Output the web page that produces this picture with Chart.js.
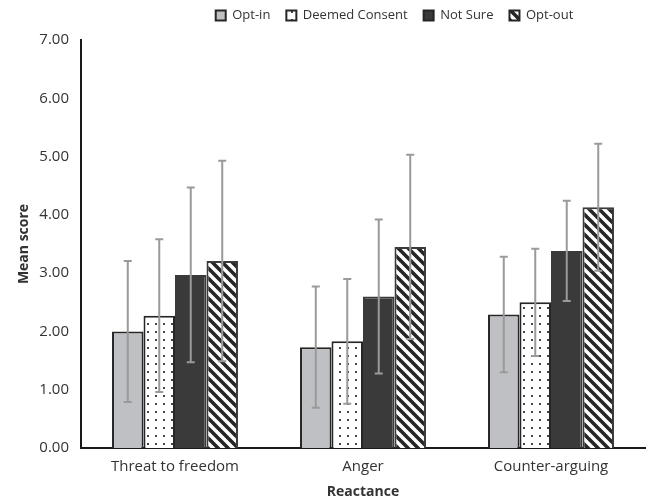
<!DOCTYPE html>
<html>
<head>
<meta charset="utf-8">
<script src="https://cdn.jsdelivr.net/npm/chart.js@4.4.0/dist/chart.umd.min.js"></script>
<style>
  html, body { margin: 0; padding: 0; background: #fff; }
  #wrap { width: 648px; height: 503px; position: relative; }
</style>
</head>
<body>
<div id="wrap"><canvas id="reactanceChart"></canvas></div>
<script>
// Reactance means by consent group, with error bars (SD)
const categories = ['Threat to freedom', 'Anger', 'Counter-arguing'];
const groupNames = ['Opt-in', 'Deemed Consent', 'Not Sure', 'Opt-out'];

const optInMeans    = [2.00, 1.73, 2.29];
const deemedMeans   = [2.27, 1.83, 2.50];
const notSureMeans  = [2.97, 2.60, 3.38];
const optOutMeans   = [3.21, 3.45, 4.13];

const optInErr   = [1.21, 1.04, 0.99];
const deemedErr  = [1.31, 1.07, 0.92];
const notSureErr = [1.50, 1.32, 0.86];
const optOutErr  = [1.72, 1.58, 1.09];

const yTicks = [0, 1, 2, 3, 4, 5, 6, 7];

const FONT = "'Open Sans', sans-serif";
const TEXT = '#333333';

// build fill patterns
function dotPattern() {
    const c = document.createElement('canvas');
    c.width = 8; c.height = 8;
    const g = c.getContext('2d');
    g.fillStyle = '#ffffff';
    g.fillRect(0, 0, 8, 8);
    g.fillStyle = '#444444';
    g.fillRect(3, 3, 2, 2);
    return g.createPattern(c, 'repeat');
}

function stripePattern() {
    const s = 10;
    const c = document.createElement('canvas');
    c.width = s; c.height = s;
    const g = c.getContext('2d');
    g.fillStyle = '#ffffff';
    g.fillRect(0, 0, s, s);
    g.strokeStyle = '#262626';
    g.lineWidth = 3.6;
    g.beginPath();
    g.moveTo(-1, -1); g.lineTo(s + 1, s + 1);
    g.moveTo(-s / 2 - 1, s / 2 - 1); g.lineTo(s / 2 + 1, s * 1.5 + 1);
    g.moveTo(s / 2 - 1, -s / 2 - 1); g.lineTo(s * 1.5 + 1, s / 2 + 1);
    g.stroke();
    return g.createPattern(c, 'repeat');
}

const fills = ['#bfc0c3', dotPattern(), '#3a3a3a', stripePattern()];
const borders = ['#262626', '#262626', '#3a3a3a', '#3a3a3a'];
const meansList = [optInMeans, deemedMeans, notSureMeans, optOutMeans];
const errList = [optInErr, deemedErr, notSureErr, optOutErr];

const datasets = groupNames.map((name, i) => ({
    label: name,
    data: meansList[i],
    errors: errList[i],
    backgroundColor: fills[i],
    borderColor: borders[i],
    borderWidth: 2,
    borderSkipped: 'bottom',
    categoryPercentage: 0.67,
    barPercentage: 1.0
}));

// error bars drawn on top of the bars
const errorBarPlugin = {
    id: 'errorBars',
    afterDatasetsDraw(chart) {
        const ctx = chart.ctx;
        const y = chart.scales.y;
        ctx.save();
        ctx.strokeStyle = '#9a9a9a';
        ctx.lineWidth = 2;
        chart.data.datasets.forEach((ds, di) => {
            const meta = chart.getDatasetMeta(di);
            meta.data.forEach((bar, j) => {
                const v = ds.data[j];
                const e = ds.errors[j];
                const top = y.getPixelForValue(v + e);
                const bot = y.getPixelForValue(v - e);
                ctx.beginPath();
                ctx.moveTo(bar.x, top); ctx.lineTo(bar.x, bot);
                ctx.moveTo(bar.x - 4, top); ctx.lineTo(bar.x + 4, top);
                ctx.moveTo(bar.x - 4, bot); ctx.lineTo(bar.x + 4, bot);
                ctx.stroke();
            });
        });
        ctx.restore();
    }
};

// legend: fixed height, shifted right like the original
const legendTweak = {
    id: 'legendTweak',
    beforeLayout(chart) {
        const lg = chart.legend;
        if (lg && !lg._tweaked) {
            const fit = lg.fit.bind(lg);
            lg.fit = function () { fit(); this.height = 47; };
            lg._tweaked = true;
        }
    },
    afterLayout(chart) {
        const lg = chart.legend;
        if (!lg) return;
        const dx = 72;
        lg.left += dx;
        lg.right += dx;
        (lg.legendHitBoxes || []).forEach(b => { b.left += dx; });
    }
};

const ctx = document.getElementById('reactanceChart').getContext('2d');
const chart = new Chart(ctx, {
    type: 'bar',
    data: { labels: categories, datasets: datasets },
    plugins: [errorBarPlugin, legendTweak],
    options: {
        responsive: true,
        maintainAspectRatio: false,
        animation: false,
        layout: { padding: { left: 0, right: 3, top: -7, bottom: 0 } },
        plugins: {
            legend: {
                display: true,
                position: 'top',
                labels: {
                    font: { family: FONT, size: 13 },
                    color: TEXT,
                    boxWidth: 10,
                    boxHeight: 10,
                    padding: 16,
                    generateLabels(ch) {
                        return ch.data.datasets.map((ds, i) => ({
                            text: ds.label,
                            fillStyle: ds.backgroundColor,
                            strokeStyle: '#262626',
                            lineWidth: 2,
                            fontColor: TEXT,
                            datasetIndex: i
                        }));
                    }
                }
            },
            tooltip: { enabled: false }
        },
        scales: {
            x: {
                afterFit(axis) { axis.height = 55; },
                grid: { display: false, drawTicks: false },
                border: { color: '#1a1a1a', width: 2 },
                ticks: {
                    font: { family: FONT, size: 15 },
                    color: TEXT,
                    padding: 10
                },
                title: {
                    display: true,
                    text: 'Reactance',
                    font: { family: FONT, size: 14, weight: 'bold' },
                    color: TEXT,
                    padding: { top: 0, bottom: 3 }
                }
            },
            y: {
                min: 0,
                max: 7,
                afterFit(axis) { axis.width = 81; },
                afterBuildTicks(axis) {
                    axis.ticks = yTicks.map(v => ({ value: v }));
                },
                grid: { display: false, drawTicks: false },
                border: { color: '#1a1a1a', width: 2 },
                ticks: {
                    font: { family: FONT, size: 15 },
                    color: TEXT,
                    padding: 12,
                    callback: v => Number(v).toFixed(2)
                },
                title: {
                    display: true,
                    text: 'Mean score',
                    font: { family: FONT, size: 14, weight: 'bold' },
                    color: TEXT,
                    padding: { top: 16, bottom: 0 }
                }
            }
        }
    }
});
</script>
</body>
</html>
